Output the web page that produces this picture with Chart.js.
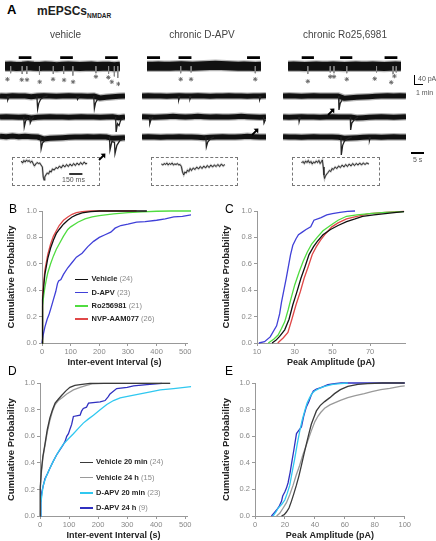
<!DOCTYPE html>
<html lang="en">
<head>
  <meta charset="UTF-8">
  <title>mEPSCs NMDAR</title>
  <script src="https://cdn.jsdelivr.net/npm/chart.js"></script>
  <style>
    body { margin: 0; width: 436px; height: 541px; position: relative; overflow: hidden; background: #fff;
           font-family: 'Liberation Sans', Arial, sans-serif; }
    canvas, .t, .box, .bar { position: absolute; }
    .t { white-space: nowrap; line-height: 1; z-index: 2; }
    .c { transform: translate(-50%, -50%); }
    .box { border: 1px dashed #777; box-sizing: border-box; }
    .bar { background: #000; }
    .lab { font-size: 12px; color: #000; }
  </style>
</head>
<body>

<div class="t" style="left:7px;top:3px;font-size:13px;font-weight:bold">A</div>
<div class="t" style="left:37px;top:5px;font-size:12px;font-weight:bold;color:#222">mEPSCs<span style="font-size:6.5px;position:relative;top:3px">NMDAR</span></div>

<div class="t lab" style="left:9px;top:203px">B</div>
<div class="t lab" style="left:225px;top:203px">C</div>
<div class="t lab" style="left:8px;top:365px">D</div>
<div class="t lab" style="left:225px;top:365px">E</div>

<!-- scale bars -->
<div class="bar" style="left:414px;top:75px;width:1px;height:10px"></div>
<div class="bar" style="left:414px;top:84px;width:9px;height:1px"></div>
<div class="t" style="left:418px;top:75px;font-size:7px;color:#555">40 pA</div>
<div class="t" style="left:416px;top:89px;font-size:7px;color:#555">1 min</div>
<div class="bar" style="left:411px;top:152px;width:13px;height:1.5px"></div>
<div class="t" style="left:413px;top:156px;font-size:7px;color:#555">5 s</div>

<div class="box" style="left:12px;top:157px;width:88px;height:29px"></div>
<div class="box" style="left:151px;top:157px;width:87px;height:29px"></div>
<div class="box" style="left:292px;top:157px;width:88px;height:29px"></div>
<div class="t" style="left:62px;top:176px;font-size:7px;color:#555">150 ms</div>

<script>
  // ---------- panel A : traces (time in % of sweep, current in pA) ----------
  const colTitles = ['vehicle', 'chronic D-APV', 'chronic Ro25,6981'];
  const sweepT = [0, 5, 10, 15, 20, 25, 30, 35, 40, 45, 50, 55, 60, 65, 70, 75, 80, 85, 90, 95, 100];

  const vehTop  = [0, 1, -1, 0, 2, 0, -1, 1, 0, -2, 0, 1, 0, -1, 0, 1, -1, 0, 0, -2, 0];
  const vehRow2 = [0, -1, 1, 0, 0, -2, 0, 1, 0, -1, 0, 1, 0, 0, -1, 0, -6, -4, -2, -1, 0];
  const vehRow3 = [0, 1, 0, -1, 0, -3, -1, 0, 1, 0, 0, -1, 0, 1, 0, 0, -1, 0, 1, -2, 0];
  const vehRow4 = [2, 1, 3, 1, 2, 1, 0, -6, -4, -3, -2, -1, 0, 0, 1, 0, 1, 0, -4, -3, -2];
  const vehBars = [[12, 23], [48, 59], [87, 98]];
  const vehSpikes = [[5, -27], [15, -30], [19, -30], [30, -33], [42, -30], [51, -30], [59, -36], [79, -27], [90, -30], [95, -39], [98, -45]];
  const vehStars = [[2.2, -50], [14.6, -52], [19.2, -52], [30.2, -60], [41.8, -50], [51.4, -53], [59.2, -60], [79, -40], [89.8, -43], [92.8, -60], [98.6, -68]];
  const vehEv2 = [[[5.8, 0], [6.2, -12], [7.5, 0]], [[29.5, 0], [30.1, -39], [31, -22], [32.5, -10], [35, -3], [38, 0]],
                  [[61.5, 0], [62, -10], [63.5, 0]], [[75, 0], [75.5, -38], [76.5, -20], [78, -10]]];
  const vehEv3 = [[[19, 0], [19.4, -30], [20.5, -12], [22, -3]], [[23.8, 0], [24.2, -18], [25.5, -6], [27, 0]],
                  [[92.5, 0], [92.9, -45], [94, -20], [95.2, -26], [96.5, -10], [99, -3]]];
  const vehEv4 = [[[32.5, 0], [32.9, -36], [34, -18], [36, -9]],
                  [[87.6, 0], [88, -39], [89.5, -14], [91.6, -16], [92, -50], [93.5, -25], [96, -10], [100, -5]]];

  const apvTop  = [0, 0, 1, 0, 0, 1, 2, 1, 0, 1, 2, 3, 4, 3, 2, 1, 0, 1, 0, -1, 0];
  const apvRow2 = [0, 1, 0, 0, -1, 0, 1, 0, 0, 1, 0, -1, 0, 0, 1, 0, 0, -1, 0, 0, 1];
  const apvRow3 = [1, 0, -1, 0, 1, 2, 1, 0, 1, 2, 1, 0, 1, 0, 0, 1, 2, 1, 0, -1, 0];
  const apvRow4 = [0, 1, 0, -1, 0, 0, 1, 0, 0, -1, -2, -1, 0, 1, 0, 0, 1, 2, 1, 0, 0];
  const apvBars = [[0, 11.5], [27.7, 39], [87.7, 99]];
  const apvSpikes = [[29.6, -27], [38.7, -24], [94.9, -27]];
  const apvStars = [[29.6, -50], [38.7, -50], [94.9, -50]];
  const apvEv2 = [[[29.3, 0], [29.6, -12], [30.5, 0]], [[38.4, 0], [38.7, -9], [39.5, 0]], [[94.6, 0], [94.9, -11], [96, 0]]];
  const apvEv3 = [[[5.9, 0], [6.3, -20], [7.5, -5], [9, 0]], [[98, 0], [98.4, -18], [99.5, -8]]];
  const apvEv4 = [[[51.5, 0], [51.9, -30], [53, -15], [55, -6], [58, 0]]];

  const roTop  = [0, 1, 0, -1, 0, 1, 0, 0, 1, 0, -1, 0, 1, 0, 0, 1, 0, -1, 0, 1, 0];
  const roRow2 = [0, 1, 0, -1, 0, 1, 0, 0, 0, 0, -7, -5, -4, -3, -2, -1, 0, 1, 0, 1, 0];
  const roRow3 = [0, -1, 0, 1, 0, 0, -1, 0, 1, 0, 0, 0, -3, -2, -1, 0, 1, 0, -1, 0, 1];
  const roRow4 = [1, 0, 0, -1, 0, 1, 0, 0, 0, -1, -4, -3, -2, -1, 0, 0, -1, 0, 1, 0, 0];
  const roBars = [[12.2, 23], [46.1, 56.9], [85.4, 96.7]];
  const roSpikes = [[17.6, -30], [37.4, -24], [40.7, -27], [52, -27], [78.3, -24], [92.9, -30], [95.7, -24]];
  const roStars = [[17.6, -58], [37.4, -40], [40.7, -40], [52, -50], [76.7, -48], [91.3, -62], [94.1, -38]];
  const roEv2 = [[[45.2, 0], [45.5, -42], [46.5, -22], [48, -12]]];
  const roEv3 = [[[12.8, 0], [13.1, -14], [14, 0]], [[54.7, 0], [55, -39], [56, -18], [58, -8], [61, 0]]];
  const roEv4 = [[[47.1, 0], [47.4, -54], [48.5, -25], [50, -12], [53, -4], [56, 0]], [[70, 0], [70.3, -10], [71, 0]]];

  // single events (ms, pA)
  const vehInset = [[106,2],[120,-2],[135,3],[150,0],[165,4],[180,1],[195,3],[210,-1],[225,2],[240,-3],[255,-8],[270,-4],[285,-1],[300,-3],[315,-2],[330,-6],[345,-10],[355,-30],[364,-36],[372,-30],[385,-26],[400,-22],[415,-24],[430,-18],[445,-20],[460,-14],[480,-16],[500,-11],[520,-13],[540,-8],[560,-12],[580,-6],[600,-10],[620,-5],[640,-9],[660,-4],[680,-8],[700,-3],[720,-7],[740,-2],[760,-6],[780,-1],[800,-5],[820,0],[840,-4],[853,-2]];
  const apvInset = [[118,-4],[135,-6],[150,-3],[165,-5],[180,-2],[195,-6],[210,-3],[225,-5],[240,-2],[255,-6],[270,-4],[285,-5],[300,-3],[315,-6],[330,-5],[345,-9],[358,-20],[372,-26],[385,-20],[400,-22],[415,-16],[430,-19],[445,-13],[460,-17],[480,-12],[500,-15],[520,-10],[540,-14],[560,-9],[580,-13],[600,-8],[620,-12],[640,-7],[660,-11],[680,-6],[700,-10],[720,-6],[740,-9],[760,-5],[780,-9],[800,-4],[820,-8],[839,-5]];
  const roInset = [[108,-2],[125,1],[140,-3],[155,2],[170,-1],[185,3],[200,-2],[215,1],[230,-4],[245,0],[260,-2],[275,2],[290,-1],[305,3],[320,-3],[335,1],[345,4],[355,-10],[363,-26],[370,-33],[380,-28],[395,-24],[410,-21],[425,-17],[440,-19],[455,-13],[470,-15],[490,-10],[510,-13],[530,-8],[550,-11],[570,-6],[590,-10],[610,-5],[630,-9],[650,-4],[670,-8],[690,-3],[710,-7],[730,-3],[750,-6],[770,-2],[790,-6],[810,-2],[830,-5],[850,-2],[874,-4]];
  const inset150ms = [650, 800];

  // ---------- panels B and C ----------
  const bNames = ['Vehicle', 'D-APV', 'Ro256981', 'NVP-AAM077'];
  const bCounts = ['(24)', '(23)', '(21)', '(26)'];
  const bColors = ['#111111', '#4040d8', '#50dc40', '#e04848'];
  const bVehicle = [[0,0],[1,0.2],[3,0.33],[6,0.43],[10,0.52],[20,0.64],[30,0.72],[40,0.78],[50,0.83],[60,0.86],[75,0.9],[90,0.93],[105,0.955],[120,0.97],[140,0.985],[170,0.995],[200,1],[366,1]];
  const bDapv = [[0,0],[4,0.06],[10,0.12],[18,0.18],[25,0.22],[32,0.27],[40,0.33],[48,0.39],[54,0.45],[58,0.47],[66,0.48],[75,0.52],[90,0.57],[105,0.61],[120,0.65],[140,0.68],[160,0.73],[180,0.77],[200,0.8],[220,0.82],[240,0.84],[255,0.87],[275,0.89],[300,0.9],[330,0.915],[360,0.92],[400,0.93],[430,0.94],[460,0.955],[490,0.96],[520,0.97]];
  const bRo = [[0,0],[1,0.17],[3,0.28],[6,0.36],[10,0.42],[15,0.48],[20,0.53],[30,0.6],[40,0.66],[50,0.71],[60,0.75],[75,0.81],[90,0.86],[100,0.88],[125,0.915],[150,0.94],[175,0.955],[200,0.965],[250,0.978],[300,0.988],[350,0.994],[400,0.998],[450,1],[520,1]];
  const bNvp = [[0,0],[1,0.22],[3,0.36],[6,0.46],[10,0.55],[20,0.67],[30,0.75],[40,0.81],[50,0.85],[60,0.89],[75,0.93],[90,0.955],[105,0.975],[120,0.988],[140,0.996],[170,1],[330,1]];
  const bTicks = [0, 100, 200, 300, 400, 500];

  const cVehicle = [[18,0],[20,0.02],[22,0.05],[24.7,0.1],[27,0.18],[29,0.29],[31,0.38],[33.3,0.49],[35.5,0.58],[37.6,0.67],[40,0.73],[42,0.77],[45,0.82],[49,0.86],[53,0.89],[57.5,0.92],[62,0.94],[66,0.96],[72,0.97],[78,0.98],[84,0.99],[88,0.995]];
  const cDapv = [[11,0],[14,0.01],[17,0.046],[20.4,0.13],[22,0.22],[23,0.31],[25.5,0.49],[27.8,0.67],[29,0.74],[30.7,0.79],[32,0.82],[34,0.84],[36,0.86],[38.5,0.88],[40.2,0.93],[44,0.95],[47,0.97],[50,0.98],[54,0.99],[58,0.997],[62,1]];
  const cRo = [[16,0],[19,0.03],[21.2,0.06],[23,0.11],[24.7,0.16],[26.5,0.25],[28.1,0.34],[30,0.44],[32.4,0.54],[34.5,0.62],[36.7,0.69],[39,0.75],[41.9,0.8],[45,0.85],[48.9,0.89],[53,0.93],[57.5,0.96],[63,0.97],[69.6,0.98],[78,0.99],[88,0.995]];
  const cNvp = [[21,0],[24,0.04],[26.4,0.08],[28.5,0.18],[30.7,0.29],[33,0.39],[35,0.49],[37.2,0.58],[39.3,0.67],[41.5,0.73],[43.7,0.78],[46.5,0.83],[49.7,0.88],[53,0.91],[57.5,0.94],[63,0.96],[69.6,0.98],[78,0.99],[88,0.997]];
  const cTicks = [10, 30, 50, 70];

  // ---------- panels D and E ----------
  const dNames = ['Vehicle 20 min', 'Vehicle 24 h', 'D-APV 20 min', 'D-APV 24 h'];
  const dCounts = ['(24)', '(15)', '(23)', '(9)'];
  const dColors = ['#3a3a3a', '#9a9a9a', '#30c8f0', '#3030c0'];
  const dVeh20 = [[0,0],[1,0.22],[5,0.35],[10,0.45],[17,0.54],[25,0.65],[34,0.74],[43,0.8],[52,0.85],[63,0.88],[75,0.91],[90,0.945],[103,0.97],[120,0.985],[138,0.99],[172,1],[448,1]];
  const dVeh24 = [[0,0],[1,0.2],[5,0.33],[10,0.44],[17,0.53],[25,0.63],[34,0.72],[43,0.79],[52,0.84],[63,0.87],[75,0.89],[92,0.92],[115,0.95],[138,0.97],[160,0.985],[180,0.995],[220,1],[448,1]];
  const dDapv20 = [[0,0],[3,0.1],[11,0.23],[20,0.29],[34,0.36],[45,0.41],[57,0.46],[68,0.5],[80,0.54],[97,0.58],[115,0.62],[132,0.66],[149,0.7],[166,0.73],[184,0.76],[207,0.8],[230,0.84],[253,0.87],[276,0.89],[310,0.905],[345,0.92],[380,0.935],[414,0.95],[460,0.96],[520,0.975]];
  const dDapv24 = [[0,0],[3,0.1],[6,0.18],[17,0.28],[26,0.32],[34,0.36],[45,0.41],[57,0.46],[69,0.5],[78,0.53],[86,0.56],[92,0.6],[98,0.62],[104,0.66],[109,0.69],[115,0.75],[138,0.76],[143,0.79],[149,0.81],[160,0.82],[167,0.85],[207,0.86],[224,0.87],[235,0.9],[241,0.92],[264,0.96],[300,0.97],[322,0.98],[368,0.99],[420,1]];

  const eVeh20 = [[17.7,0],[19.5,0.01],[21,0.03],[22.7,0.06],[24.3,0.11],[26,0.17],[27.6,0.23],[29.3,0.3],[31,0.38],[32.6,0.46],[34.3,0.54],[36,0.62],[37.6,0.69],[39.3,0.74],[41,0.79],[43.5,0.83],[46.5,0.86],[50,0.89],[53.1,0.92],[57,0.95],[62,0.975],[68.7,0.99],[75,0.995],[85,1],[100,1]];
  const eVeh24 = [[14.4,0],[16.5,0.02],[18.8,0.06],[21,0.1],[23.2,0.16],[25.4,0.23],[27.6,0.31],[29.8,0.38],[32,0.46],[34.8,0.55],[37.6,0.64],[40,0.71],[42,0.75],[44,0.78],[46.5,0.81],[50,0.835],[53.1,0.85],[57,0.87],[62,0.89],[67,0.905],[73,0.92],[78,0.935],[84,0.95],[90,0.96],[97,0.975],[100,0.978]];
  const eDapv20 = [[12,0],[14,0.03],[15.5,0.06],[18,0.09],[19.9,0.12],[21.5,0.17],[23.2,0.23],[24.8,0.33],[26.5,0.43],[28.2,0.54],[29.9,0.64],[31.5,0.72],[33.2,0.79],[34.8,0.85],[36.5,0.89],[38,0.92],[39.8,0.94],[43,0.96],[46.5,0.975],[52,0.99],[57,0.995],[62,1]];
  const eDapv24 = [[11,0],[12.5,0.02],[14.4,0.045],[16,0.07],[17.7,0.11],[18.5,0.15],[19.9,0.18],[21,0.21],[22.1,0.25],[23.5,0.33],[24.8,0.42],[26,0.5],[27.7,0.62],[29,0.64],[31,0.67],[32.5,0.75],[34.3,0.82],[36,0.86],[37.6,0.91],[39,0.94],[41,0.955],[44,0.965],[48.7,0.987],[53,0.995],[57.6,1],[100,1]];
  const eTicks = [0, 20, 40, 60, 80, 100];
  const probTicks = [0, 0.2, 0.4, 0.6, 0.8, 1];

  Chart.defaults.font.family = "'Liberation Sans', Arial, sans-serif";

  function addText(html, x, y, css, centered) {
    const d = document.createElement('div');
    d.className = 't' + (centered ? ' c' : '');
    d.style.cssText += `left:${x}px;top:${y}px;` + css;
    d.innerHTML = html;
    document.body.appendChild(d);
    return d;
  }

  function pts(vals) { return vals.map((v, i) => ({ x: sweepT[i], y: v })); }
  function segs(list) {
    const out = [];
    list.forEach(s => {
      s.forEach(p => out.push({ x: p[0], y: p[1] }));
      out.push({ x: s[s.length - 1][0], y: null });
    });
    return out;
  }

  function traceChart(left, top, w, h, xMax, yMin, yMax, datasets) {
    const c = document.createElement('canvas');
    c.width = w; c.height = h;
    c.style.left = left + 'px'; c.style.top = top + 'px';
    document.body.appendChild(c);
    new Chart(c, {
      type: 'line',
      data: { datasets },
      options: {
        animation: false, responsive: false, events: [],
        plugins: { legend: { display: false }, tooltip: { enabled: false } },
        scales: {
          x: { type: 'linear', min: 0, max: xMax, display: false },
          y: { min: yMin, max: yMax, display: false }
        }
      }
    });
  }
  function thin(data, color, w, order) {
    return { data, borderColor: color, borderWidth: w, pointRadius: 0, spanGaps: false, order: order || 1 };
  }
  function band(vals, w) {
    return [
      { data: pts(vals), borderColor: '#111', borderWidth: w, pointRadius: 0, order: 2, borderJoinStyle: 'round' },
      { data: pts(vals), borderColor: '#b4b4b4', borderWidth: w + 2.5, pointRadius: 0, order: 3 }
    ];
  }

  const columns = [
    { left: 0, w: 125, mid: 65.5, top: vehTop, rows: [vehRow2, vehRow3, vehRow4], ev: [vehEv2, vehEv3, vehEv4], bars: vehBars, spikes: vehSpikes, stars: vehStars },
    { left: 142, w: 124, mid: 202, top: apvTop, rows: [apvRow2, apvRow3, apvRow4], ev: [apvEv2, apvEv3, apvEv4], bars: apvBars, spikes: apvSpikes, stars: apvStars },
    { left: 283, w: 123, mid: 345, top: roTop, rows: [roRow2, roRow3, roRow4], ev: [roEv2, roEv3, roEv4], bars: roBars, spikes: roSpikes, stars: roStars }
  ];

  columns.forEach((col, i) => {
    addText(colTitles[i], col.mid, 35, 'font-size:10px;color:#444', true);
    traceChart(col.left, 48, col.w, 45, 100, -84, 51, [
      { data: col.stars.map(s => ({ x: s[0], y: s[1] })), showLine: false, pointStyle: 'star',
        pointRadius: 2.2, borderColor: '#666', borderWidth: 0.9, order: 0 },
      thin(segs(col.bars.map(b => [[b[0], 33], [b[1], 33]])), '#000', 2.6),
      thin(segs(col.spikes.map(s => [[s[0], 0], [s[0], s[1]]])), '#888', 1),
      ...band(col.top, 9)
    ]);
    [86, 107, 127].forEach((top, r) => {
      traceChart(col.left, top, col.w, 32, 100, -66, 30, [thin(segs(col.ev[r]), '#222', 1.3), ...band(col.rows[r], 5)]);
    });
  });

  // single-event insets
  [[12, vehInset], [151, apvInset], [292, roInset]].forEach(([left, data], i) => {
    const d = data.map(p => ({ x: p[0], y: p[1] }));
    const sets = [thin(d, '#222', 0.9, 1), thin(d, '#bbb', 2, 2)];
    if (i === 0) sets.push(thin([{ x: inset150ms[0], y: -24 }, { x: inset150ms[1], y: -24 }], '#000', 1.6, 0));
    traceChart(left, 157, 88, 29, 1000, -48, 10, sets);
  });

  // arrows
  [[101.7, 151.7], [254.7, 126.7], [331.3, 106.7]].forEach(([x, y]) => {
    addText('<svg width="8" height="8" viewBox="0 0 8 8"><path d="M1 7 L5.5 2.5" stroke="#000" stroke-width="1.8"/><path d="M2.6 0.8 L7.4 0.6 L7.2 5.4 Z" fill="#000"/></svg>',
      x - 4, y - 4, '');
  });

  // ---------- cumulative probability panels ----------
  function cdfChart(o) {
    const c = document.createElement('canvas');
    c.width = o.w; c.height = o.h;
    c.style.left = o.left + 'px'; c.style.top = o.top + 'px';
    document.body.appendChild(c);
    const tickFont = { size: 7.5 };
    new Chart(c, {
      type: 'line',
      data: {
        datasets: o.series.map((s, i) => ({
          data: s.map(p => ({ x: p[0], y: p[1] })),
          borderColor: o.colors[i], borderWidth: 1.3, pointRadius: 0, tension: 0, clip: false
        }))
      },
      options: {
        animation: false, responsive: false, events: [],
        layout: { padding: { top: o.padTop, right: o.padRight, left: 0, bottom: 0 } },
        plugins: { legend: { display: false }, tooltip: { enabled: false } },
        scales: {
          x: {
            type: 'linear', min: o.xMin, max: o.xMax,
            afterBuildTicks: s => { s.ticks = o.xTicks.map(v => ({ value: v })); },
            afterFit: s => { s.height = o.xAxisH; },
            ticks: { font: tickFont, color: '#888', padding: 1, maxRotation: 0 },
            grid: { drawOnChartArea: false, tickLength: 3, color: '#999' },
            border: { color: '#999' },
            title: { display: true, text: o.xTitle, color: '#222', font: { size: 9, weight: 'bold' },
                     padding: { top: 0, bottom: o.titlePadB } }
          },
          y: {
            min: 0, max: 1,
            afterBuildTicks: s => { s.ticks = probTicks.map(v => ({ value: v })); },
            afterFit: s => { s.width = o.yAxisW; },
            ticks: { font: tickFont, color: '#888', padding: 2, callback: v => v.toFixed(1) },
            grid: { drawOnChartArea: false, tickLength: 3, color: '#999' },
            border: { color: '#999' },
            title: { display: true, text: 'Cumulative Probability', color: '#222', font: { size: 9.5, weight: 'bold' },
                     padding: { top: 6, bottom: 0 } }
          }
        }
      }
    });
  }

  cdfChart({ left: 0, top: 200, w: 195, h: 172, padTop: 11, padRight: 8, yAxisW: 42, xAxisH: 29, titlePadB: 4.5,
             xMin: 0, xMax: 506, xTicks: bTicks, xTitle: 'Inter-event Interval (s)',
             series: [bVehicle, bDapv, bRo, bNvp], colors: bColors });
  cdfChart({ left: 215, top: 200, w: 197, h: 172, padTop: 11, padRight: 7, yAxisW: 42, xAxisH: 29, titlePadB: 4.5,
             xMin: 10, xMax: 88.5, xTicks: cTicks, xTitle: 'Peak Amplitude (pA)',
             series: [cVehicle, cDapv, cRo, cNvp], colors: bColors });
  cdfChart({ left: 0, top: 372, w: 195, h: 169, padTop: 11.3, padRight: 8, yAxisW: 40, xAxisH: 25, titlePadB: 0.5,
             xMin: 0, xMax: 506, xTicks: bTicks, xTitle: 'Inter-event Interval (s)',
             series: [dVeh20, dVeh24, dDapv20, dDapv24], colors: dColors });
  cdfChart({ left: 215, top: 372, w: 197, h: 169, padTop: 11, padRight: 7, yAxisW: 40, xAxisH: 25, titlePadB: 0.5,
             xMin: 0, xMax: 100, xTicks: eTicks, xTitle: 'Peak Amplitude (pA)',
             series: [eVeh20, eVeh24, eDapv20, eDapv24], colors: dColors });

  // legends
  function legend(x, y0, step, lineLen, names, counts, colors) {
    names.forEach((n, i) => {
      const y = y0 + i * step;
      const l = document.createElement('div');
      l.className = 'bar';
      l.style.cssText = `left:${x}px;top:${y - 0.75}px;width:${lineLen}px;height:1.5px;background:${colors[i]}`;
      document.body.appendChild(l);
      addText(`<b style="color:#222">${n}</b> <span style="color:#888">${counts[i]}</span>`,
        x + lineLen + 3.5, y - 4, 'font-size:7.5px');
    });
  }
  legend(75, 279.3, 13.3, 13, bNames, bCounts, bColors);
  legend(80, 462.3, 15.3, 12.5, dNames, dCounts, dColors);
</script>
</body>
</html>
